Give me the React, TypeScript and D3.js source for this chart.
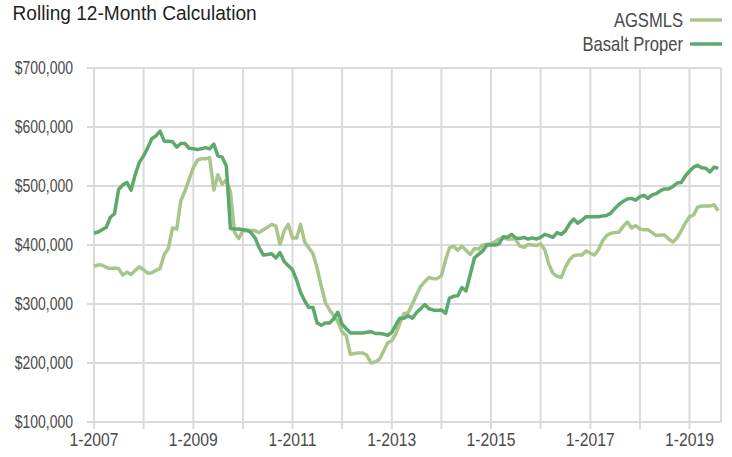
import React, { useRef, useEffect } from 'react';
import * as d3 from 'd3';

// monthly rolling 12-month values, Jan 2007 .. Aug 2019 (in $ thousands)
const startMonth = new Date(2007, 0, 1);

const agsmls = [
  364, 366, 366, 362, 360, 361, 360, 349, 354, 350, 357, 363,
  358, 352, 353, 357, 360, 384, 394, 429, 427, 475, 492, 511,
  531, 544, 546, 546, 548, 493, 519, 503, 510, 491, 421, 411,
  424, 424, 425, 424, 421, 426, 430, 435, 432, 401, 424, 435,
  412, 412, 435, 405, 395, 385, 361, 330, 302, 290, 280, 270,
  253, 246, 215, 216, 217, 217, 213, 200, 202, 206, 220, 234,
  238, 250, 267, 284, 285, 300, 315, 330, 338, 345, 343, 343,
  348, 375, 395, 398, 391, 398, 391, 384, 394, 393, 400, 401,
  402, 406, 410, 412, 410, 410, 410, 398, 396, 401, 400, 399,
  402, 392, 368, 352, 347, 345, 362, 375, 382, 383, 383, 390,
  386, 383, 392, 407, 416, 420, 421, 422, 432, 439, 429, 433,
  427, 426, 426, 421, 416, 417, 417, 410, 405, 412, 424, 437,
  448, 451, 464, 466, 466, 466, 468, 458,
];

const basalt = [
  420, 422, 426, 430, 447, 453, 494, 502, 506, 493, 520, 540,
  551, 565, 580, 585, 593, 576, 576, 575, 566, 572, 572, 564,
  563, 562, 563, 565, 563, 571, 551, 549, 534, 428, 427, 427,
  426, 425, 421, 412, 395, 383, 384, 385, 378, 387, 372, 365,
  358, 340, 320, 305, 294, 294, 268, 264, 268, 268, 275, 286,
  266, 258, 251, 251, 251, 251, 252, 253, 250, 250, 249, 247,
  252, 265, 276, 276, 280, 276, 285, 292, 299, 292, 290, 289,
  290, 284, 310, 313, 314, 328, 322, 350, 378, 384, 390, 400,
  400, 400, 402, 414, 413, 418, 412, 411, 413, 410, 412, 410,
  413, 418, 416, 413, 421, 418, 424, 436, 444, 437, 442, 448,
  448, 448, 448, 449, 450, 454, 462, 469, 474, 478, 479, 476,
  482, 484, 479, 485, 487, 492, 495, 495, 499, 505, 506, 517,
  525, 532, 535, 531, 530, 524, 532, 530,
];

const seriesNames = ['AGSMLS', 'Basalt Proper'];
const seriesColors = ['#a8c68b', '#5da86b'];
const yTicks = [100000, 200000, 300000, 400000, 500000, 600000, 700000];
const yearTicks = [2007, 2008, 2009, 2010, 2011, 2012, 2013, 2014, 2015, 2016, 2017, 2018, 2019];

const FONT = "'Liberation Sans', Arial, sans-serif";

// condensed-looking text: squeeze the glyphs horizontally
const addText = (parent, x, y, str, size, sx, anchor, fill, dy = '0') => {
  parent.append('g')
    .attr('transform', `translate(${x},${y}) scale(${sx},1)`)
    .append('text')
    .attr('dy', dy)
    .attr('text-anchor', anchor)
    .attr('fill', fill)
    .style('font-size', `${size}px`)
    .text(str);
};

const App = () => {
  const ref = useRef<HTMLDivElement>(null);

  useEffect(() => {
    const width = 732;
    const height = 457;

    d3.select(ref.current).selectAll('svg').remove();

    const svg = d3.select(ref.current)
      .append('svg')
      .attr('width', width)
      .attr('height', height)
      .style('display', 'block')
      .style('font-family', FONT);

    const x = d3.scaleTime()
      .domain([new Date(2007, 0, 1), new Date(2019, 0, 1)])
      .range([94, 689.5]);

    const y = d3.scaleLinear()
      .domain([100000, 700000])
      .range([422, 68]);

    const gridLeft = 87;
    const gridRight = 721;

    // horizontal gridlines
    svg.append('g')
      .selectAll('line')
      .data(yTicks)
      .enter().append('line')
      .attr('x1', gridLeft)
      .attr('x2', gridRight)
      .attr('y1', (d) => y(d))
      .attr('y2', (d) => y(d))
      .attr('stroke', '#dadada')
      .attr('stroke-width', 2);

    // vertical gridlines + ticks below axis
    const years = yearTicks.map((yr) => new Date(yr, 0, 1));
    svg.append('g')
      .selectAll('line')
      .data(years)
      .enter().append('line')
      .attr('x1', (d) => x(d))
      .attr('x2', (d) => x(d))
      .attr('y1', y(700000))
      .attr('y2', y(100000) + 7)
      .attr('stroke', '#dadada')
      .attr('stroke-width', 2);

    svg.append('line')
      .attr('x1', gridRight)
      .attr('x2', gridRight)
      .attr('y1', y(700000))
      .attr('y2', y(100000))
      .attr('stroke', '#dadada')
      .attr('stroke-width', 2);

    // y labels
    const fmt = d3.format('$,');
    const yLabels = svg.append('g');
    yTicks.forEach((d) => {
      addText(yLabels, 73, y(d), fmt(d), 17.5, 0.8, 'end', '#4a4a4a', '0.36em');
    });

    // x labels, every other year
    const xLabels = svg.append('g');
    years.filter((d, i) => i % 2 === 0).forEach((d) => {
      addText(xLabels, x(d), 446, `1-${d.getFullYear()}`, 18.5, 0.85, 'middle', '#4a4a4a');
    });

    // lines
    const line = d3.line<number>()
      .x((d, i) => x(d3.timeMonth.offset(startMonth, i)))
      .y((d) => y(d * 1000));

    [agsmls, basalt].forEach((values, k) => {
      svg.append('path')
        .datum(values)
        .attr('d', line)
        .attr('fill', 'none')
        .attr('stroke', seriesColors[k])
        .attr('stroke-width', 3.5)
        .attr('stroke-linejoin', 'round');
    });

    // title
    addText(svg, 12.5, 20, 'Rolling 12-Month Calculation', 21, 0.91, 'start', '#1f1f1f');

    // legend
    seriesNames.forEach((name, k) => {
      const ly = 20 + k * 24;
      addText(svg, 683, ly, name, 20, 0.83, 'end', '#4a4a4a', '0.36em');
      svg.append('line')
        .attr('x1', 690)
        .attr('x2', 722)
        .attr('y1', ly)
        .attr('y2', ly)
        .attr('stroke', seriesColors[k])
        .attr('stroke-width', 3.5);
    });
  }, []);

  return <div ref={ref} style={{ position: 'absolute', left: 0, top: 0 }} />;
};

export default App;
